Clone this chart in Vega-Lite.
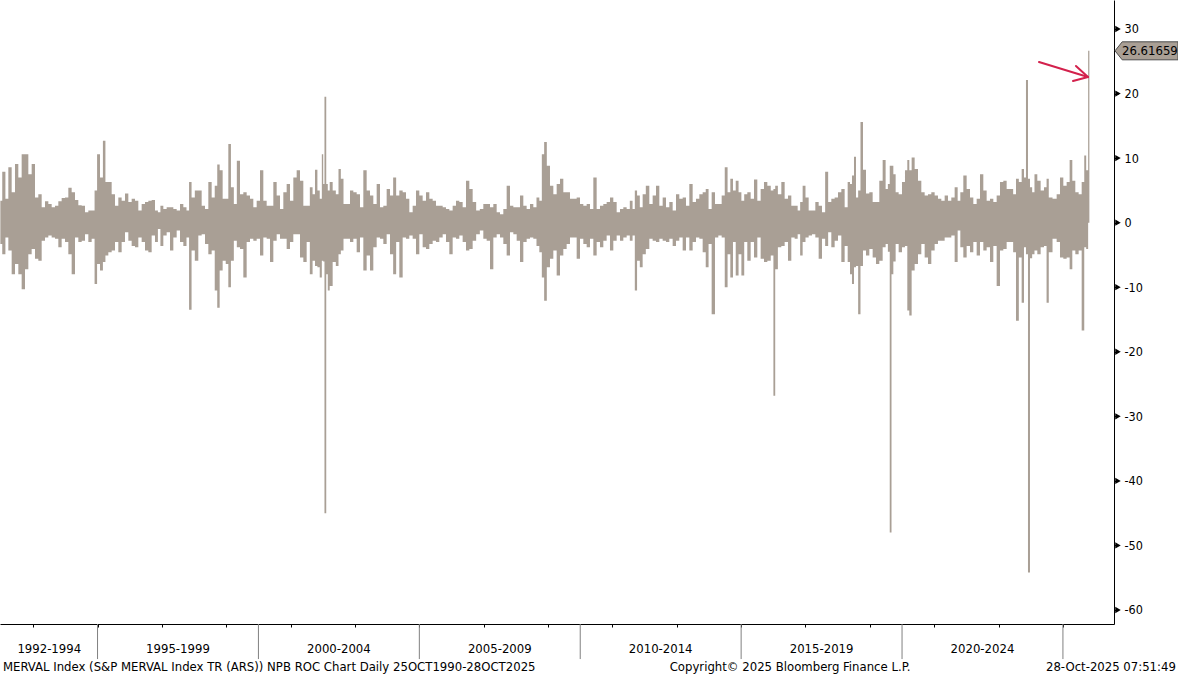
{
"$schema": "https://vega.github.io/schema/vega-lite/v6.json",
"width": 1114, "height": 624,
"autosize": {"type": "none"},
"padding": {"left": 0, "top": 0, "right": 64, "bottom": 52},
"background": "white",
"config": {"view": {"stroke": null}, "font": "DejaVu Sans Condensed, DejaVu Sans, sans-serif"},
"datasets": {
"roc": [
{"t":1991.98,"h":3.4,"l":-3.3},{"t":1992.098,"h":7.9,"l":-4.9},{"t":1992.176,"h":3.7,"l":-2.3},{"t":1992.28,"h":8.6,"l":-4.3},{"t":1992.383,"h":4.7,"l":-8.0},{"t":1992.487,"h":9.1,"l":-6.4},{"t":1992.59,"h":7.0,"l":-8.0},{"t":1992.694,"h":10.6,"l":-10.3},{"t":1992.798,"h":10.6,"l":-7.2},{"t":1992.901,"h":7.5,"l":-4.9},
{"t":1993.005,"h":9.1,"l":-4.1},{"t":1993.108,"h":3.9,"l":-5.6},{"t":1993.212,"h":4.4,"l":-5.9},{"t":1993.316,"h":2.4,"l":-2.8},{"t":1993.419,"h":3.3,"l":-2.3},{"t":1993.523,"h":2.9,"l":-2.0},{"t":1993.626,"h":2.4,"l":-2.3},{"t":1993.73,"h":2.6,"l":-2.5},{"t":1993.833,"h":3.3,"l":-3.8},{"t":1993.937,"h":3.8,"l":-2.5},
{"t":1994.041,"h":3.9,"l":-3.0},{"t":1994.144,"h":5.4,"l":-4.9},{"t":1994.248,"h":4.7,"l":-8.0},{"t":1994.351,"h":3.5,"l":-2.3},{"t":1994.455,"h":2.7,"l":-3.0},{"t":1994.559,"h":2.6,"l":-2.8},{"t":1994.662,"h":1.6,"l":-1.8},{"t":1994.766,"h":1.9,"l":-3.0},{"t":1994.869,"h":1.9,"l":-2.5},{"t":1994.947,"h":5.0,"l":-9.5},
{"t":1995.025,"h":10.6,"l":-6.4},{"t":1995.128,"h":7.0,"l":-7.4},{"t":1995.206,"h":12.7,"l":-6.1},{"t":1995.284,"h":6.3,"l":-5.1},{"t":1995.387,"h":6.3,"l":-4.6},{"t":1995.491,"h":4.4,"l":-4.3},{"t":1995.594,"h":2.6,"l":-3.0},{"t":1995.698,"h":3.9,"l":-4.6},{"t":1995.801,"h":3.4,"l":-3.0},{"t":1995.905,"h":4.5,"l":-1.5},
{"t":1996.009,"h":3.2,"l":-2.8},{"t":1996.112,"h":3.7,"l":-3.6},{"t":1996.216,"h":3.4,"l":-3.8},{"t":1996.319,"h":1.9,"l":-2.3},{"t":1996.423,"h":2.9,"l":-3.0},{"t":1996.527,"h":3.2,"l":-4.3},{"t":1996.63,"h":3.4,"l":-4.6},{"t":1996.734,"h":3.5,"l":-2.0},{"t":1996.837,"h":1.9,"l":-3.0},{"t":1996.915,"h":1.6,"l":-1.0},
{"t":1996.993,"h":2.6,"l":-3.6},{"t":1997.096,"h":2.1,"l":-2.0},{"t":1997.2,"h":2.4,"l":-1.5},{"t":1997.304,"h":2.4,"l":-4.3},{"t":1997.407,"h":2.1,"l":-2.3},{"t":1997.511,"h":1.9,"l":-1.2},{"t":1997.614,"h":2.9,"l":-3.0},{"t":1997.718,"h":2.4,"l":-3.6},{"t":1997.811,"h":1.9,"l":-2.3},{"t":1997.878,"h":6.3,"l":-13.5},
{"t":1997.966,"h":3.9,"l":-4.3},{"t":1998.08,"h":5.0,"l":-5.9},{"t":1998.184,"h":5.0,"l":-2.0},{"t":1998.288,"h":2.6,"l":-1.8},{"t":1998.391,"h":2.1,"l":-3.3},{"t":1998.495,"h":6.3,"l":-4.9},{"t":1998.598,"h":3.9,"l":-4.3},{"t":1998.686,"h":5.7,"l":-10.5},{"t":1998.754,"h":9.0,"l":-13.2},{"t":1998.836,"h":8.1,"l":-7.4},
{"t":1998.94,"h":3.7,"l":-5.9},{"t":1999.028,"h":3.7,"l":-6.4},{"t":1999.101,"h":12.2,"l":-10.0},{"t":1999.189,"h":5.5,"l":-5.9},{"t":1999.282,"h":2.9,"l":-2.8},{"t":1999.375,"h":9.6,"l":-3.8},{"t":1999.479,"h":4.4,"l":-4.1},{"t":1999.582,"h":4.7,"l":-8.5},{"t":1999.686,"h":4.2,"l":-3.0},{"t":1999.789,"h":3.7,"l":-2.5},
{"t":1999.893,"h":2.4,"l":-2.8},{"t":1999.997,"h":3.4,"l":-2.5},{"t":2000.1,"h":8.1,"l":-5.1},{"t":2000.204,"h":3.4,"l":-2.3},{"t":2000.307,"h":2.6,"l":-2.5},{"t":2000.411,"h":2.6,"l":-6.1},{"t":2000.515,"h":6.3,"l":-2.8},{"t":2000.618,"h":4.2,"l":-1.8},{"t":2000.722,"h":2.1,"l":-2.5},{"t":2000.825,"h":4.7,"l":-2.5},
{"t":2000.929,"h":6.0,"l":-4.1},{"t":2001.032,"h":3.4,"l":-3.0},{"t":2001.136,"h":7.0,"l":-1.8},{"t":2001.24,"h":8.1,"l":-1.8},{"t":2001.343,"h":6.5,"l":-5.4},{"t":2001.447,"h":2.6,"l":-6.1},{"t":2001.55,"h":2.6,"l":-3.0},{"t":2001.644,"h":5.5,"l":-8.0},{"t":2001.721,"h":4.4,"l":-5.9},{"t":2001.794,"h":8.2,"l":-6.7},
{"t":2001.871,"h":5.0,"l":-6.9},{"t":2001.939,"h":3.7,"l":-8.5},{"t":2002.001,"h":10.6,"l":-5.9},{"t":2002.025,"h":6.0,"l":-6.0},{"t":2002.079,"h":19.5,"l":-45.0},{"t":2002.135,"h":6.0,"l":-8.0},{"t":2002.175,"h":5.0,"l":-10.5},{"t":2002.255,"h":6.3,"l":-9.8},{"t":2002.358,"h":5.0,"l":-6.1},{"t":2002.452,"h":4.4,"l":-6.7},{"t":2002.524,"h":8.3,"l":-4.9},{"t":2002.597,"h":6.8,"l":-4.3},
{"t":2002.69,"h":2.9,"l":-2.5},{"t":2002.793,"h":2.9,"l":-2.5},{"t":2002.897,"h":5.0,"l":-3.0},{"t":2003.001,"h":4.7,"l":-2.5},{"t":2003.104,"h":4.4,"l":-4.6},{"t":2003.208,"h":2.4,"l":-2.3},{"t":2003.311,"h":8.1,"l":-7.4},{"t":2003.415,"h":5.0,"l":-5.1},{"t":2003.518,"h":4.2,"l":-7.4},{"t":2003.622,"h":2.9,"l":-3.8},
{"t":2003.726,"h":6.0,"l":-2.3},{"t":2003.829,"h":2.4,"l":-2.5},{"t":2003.933,"h":2.6,"l":-3.3},{"t":2004.036,"h":5.2,"l":-1.8},{"t":2004.14,"h":4.2,"l":-4.9},{"t":2004.233,"h":7.0,"l":-8.0},{"t":2004.326,"h":4.2,"l":-3.0},{"t":2004.43,"h":5.0,"l":-8.5},{"t":2004.534,"h":4.7,"l":-2.3},{"t":2004.637,"h":3.7,"l":-2.5},
{"t":2004.741,"h":1.6,"l":-2.0},{"t":2004.844,"h":2.6,"l":-2.5},{"t":2004.948,"h":5.0,"l":-4.9},{"t":2005.051,"h":4.2,"l":-1.8},{"t":2005.155,"h":3.4,"l":-3.8},{"t":2005.259,"h":4.7,"l":-4.1},{"t":2005.362,"h":3.7,"l":-3.3},{"t":2005.466,"h":3.4,"l":-2.8},{"t":2005.569,"h":2.6,"l":-3.0},{"t":2005.673,"h":2.6,"l":-2.3},
{"t":2005.777,"h":2.4,"l":-1.8},{"t":2005.88,"h":2.1,"l":-3.0},{"t":2005.984,"h":1.9,"l":-4.9},{"t":2006.087,"h":2.6,"l":-2.3},{"t":2006.191,"h":3.4,"l":-2.5},{"t":2006.294,"h":3.2,"l":-2.0},{"t":2006.398,"h":2.4,"l":-3.0},{"t":2006.502,"h":6.5,"l":-4.3},{"t":2006.605,"h":5.2,"l":-4.1},{"t":2006.709,"h":3.2,"l":-2.8},
{"t":2006.823,"h":1.9,"l":-1.8},{"t":2006.937,"h":2.1,"l":-1.2},{"t":2007.04,"h":2.9,"l":-2.5},{"t":2007.144,"h":2.9,"l":-2.8},{"t":2007.248,"h":2.4,"l":-7.2},{"t":2007.351,"h":2.9,"l":-2.3},{"t":2007.455,"h":1.6,"l":-1.8},{"t":2007.558,"h":1.3,"l":-2.3},{"t":2007.662,"h":2.1,"l":-3.3},{"t":2007.765,"h":5.7,"l":-5.1},
{"t":2007.869,"h":2.6,"l":-1.5},{"t":2007.973,"h":2.4,"l":-1.8},{"t":2008.076,"h":2.4,"l":-2.8},{"t":2008.18,"h":4.2,"l":-6.1},{"t":2008.283,"h":2.6,"l":-3.0},{"t":2008.387,"h":2.1,"l":-2.5},{"t":2008.49,"h":2.9,"l":-2.3},{"t":2008.594,"h":2.4,"l":-2.5},{"t":2008.687,"h":3.9,"l":-3.6},{"t":2008.77,"h":3.4,"l":-4.6},
{"t":2008.843,"h":10.6,"l":-8.5},{"t":2008.915,"h":12.5,"l":-12.1},{"t":2009.008,"h":8.8,"l":-6.9},{"t":2009.112,"h":5.7,"l":-5.6},{"t":2009.216,"h":4.4,"l":-4.3},{"t":2009.319,"h":6.0,"l":-8.2},{"t":2009.423,"h":6.8,"l":-5.1},{"t":2009.526,"h":4.7,"l":-4.1},{"t":2009.63,"h":4.7,"l":-3.3},{"t":2009.733,"h":3.7,"l":-2.3},
{"t":2009.837,"h":3.7,"l":-2.3},{"t":2009.941,"h":3.9,"l":-5.6},{"t":2010.044,"h":2.9,"l":-2.5},{"t":2010.148,"h":2.6,"l":-3.3},{"t":2010.251,"h":2.9,"l":-3.8},{"t":2010.355,"h":2.1,"l":-2.5},{"t":2010.459,"h":7.0,"l":-5.1},{"t":2010.562,"h":2.1,"l":-3.0},{"t":2010.666,"h":2.6,"l":-3.8},{"t":2010.769,"h":2.9,"l":-2.8},
{"t":2010.873,"h":3.2,"l":-2.0},{"t":2010.976,"h":3.9,"l":-4.3},{"t":2011.08,"h":3.2,"l":-2.8},{"t":2011.184,"h":1.6,"l":-2.0},{"t":2011.287,"h":2.1,"l":-2.8},{"t":2011.391,"h":2.4,"l":-2.3},{"t":2011.494,"h":2.1,"l":-2.0},{"t":2011.587,"h":3.4,"l":-2.8},{"t":2011.665,"h":2.1,"l":-2.0},{"t":2011.727,"h":5.0,"l":-10.5},
{"t":2011.805,"h":4.2,"l":-5.9},{"t":2011.898,"h":2.4,"l":-6.9},{"t":2011.981,"h":4.4,"l":-4.9},{"t":2012.095,"h":5.7,"l":-4.1},{"t":2012.199,"h":2.9,"l":-2.5},{"t":2012.302,"h":4.2,"l":-2.8},{"t":2012.406,"h":5.7,"l":-3.0},{"t":2012.51,"h":2.6,"l":-2.5},{"t":2012.613,"h":3.9,"l":-2.8},{"t":2012.717,"h":2.4,"l":-3.0},
{"t":2012.82,"h":3.2,"l":-2.5},{"t":2012.924,"h":1.9,"l":-3.6},{"t":2013.027,"h":4.4,"l":-2.8},{"t":2013.131,"h":3.7,"l":-2.3},{"t":2013.235,"h":3.9,"l":-4.3},{"t":2013.338,"h":2.6,"l":-2.3},{"t":2013.442,"h":6.0,"l":-4.3},{"t":2013.545,"h":3.2,"l":-3.0},{"t":2013.649,"h":3.7,"l":-2.3},{"t":2013.753,"h":4.4,"l":-2.5},
{"t":2013.856,"h":4.7,"l":-4.6},{"t":2013.944,"h":5.2,"l":-6.9},{"t":2014.032,"h":2.1,"l":-3.3},{"t":2014.136,"h":4.7,"l":-14.2},{"t":2014.239,"h":2.9,"l":-2.3},{"t":2014.343,"h":2.9,"l":-2.0},{"t":2014.447,"h":4.2,"l":-2.3},{"t":2014.535,"h":8.6,"l":-10.0},{"t":2014.623,"h":4.7,"l":-4.9},{"t":2014.705,"h":6.8,"l":-8.5},
{"t":2014.788,"h":5.0,"l":-3.0},{"t":2014.876,"h":6.5,"l":-8.2},{"t":2014.964,"h":4.7,"l":-4.9},{"t":2015.052,"h":3.4,"l":-8.2},{"t":2015.14,"h":4.4,"l":-3.0},{"t":2015.244,"h":4.7,"l":-5.9},{"t":2015.348,"h":3.7,"l":-3.0},{"t":2015.451,"h":6.7,"l":-5.4},{"t":2015.555,"h":3.4,"l":-2.3},{"t":2015.658,"h":5.2,"l":-5.6},
{"t":2015.762,"h":6.3,"l":-6.1},{"t":2015.866,"h":5.7,"l":-5.9},{"t":2015.975,"h":5.0,"l":-5.1},{"t":2016.031,"h":5.2,"l":-26.8},{"t":2016.087,"h":5.7,"l":-7.2},{"t":2016.197,"h":4.4,"l":-3.8},{"t":2016.301,"h":6.3,"l":-3.6},{"t":2016.404,"h":3.7,"l":-3.0},{"t":2016.508,"h":4.2,"l":-5.9},{"t":2016.611,"h":2.6,"l":-2.3},
{"t":2016.715,"h":2.6,"l":-2.5},{"t":2016.798,"h":1.9,"l":-1.8},{"t":2016.87,"h":3.2,"l":-5.1},{"t":2016.953,"h":5.7,"l":-3.0},{"t":2017.047,"h":3.9,"l":-2.3},{"t":2017.15,"h":1.9,"l":-2.0},{"t":2017.254,"h":1.9,"l":-1.8},{"t":2017.357,"h":3.2,"l":-2.3},{"t":2017.461,"h":2.6,"l":-5.6},{"t":2017.564,"h":1.6,"l":-2.5},
{"t":2017.658,"h":7.9,"l":-3.6},{"t":2017.751,"h":3.2,"l":-1.5},{"t":2017.854,"h":3.7,"l":-3.8},{"t":2017.958,"h":3.9,"l":-2.8},{"t":2018.062,"h":4.7,"l":-2.0},{"t":2018.165,"h":5.2,"l":-6.1},{"t":2018.269,"h":2.4,"l":-3.6},{"t":2018.352,"h":6.3,"l":-6.1},{"t":2018.414,"h":6.0,"l":-8.0},{"t":2018.476,"h":7.3,"l":-9.5},
{"t":2018.538,"h":10.2,"l":-6.9},{"t":2018.6,"h":3.9,"l":-6.7},{"t":2018.673,"h":5.0,"l":-14.2},{"t":2018.745,"h":15.6,"l":-6.7},{"t":2018.828,"h":8.2,"l":-4.3},{"t":2018.932,"h":4.5,"l":-5.1},{"t":2019.035,"h":4.7,"l":-4.1},{"t":2019.139,"h":3.2,"l":-5.4},{"t":2019.242,"h":3.2,"l":-6.4},{"t":2019.346,"h":6.5,"l":-5.9},
{"t":2019.45,"h":9.7,"l":-3.8},{"t":2019.53,"h":5.2,"l":-3.3},{"t":2019.59,"h":6.0,"l":-4.5},{"t":2019.646,"h":8.8,"l":-48.0},{"t":2019.70,"h":8.8,"l":-8.0},{"t":2019.76,"h":7.5,"l":-6.0},{"t":2019.843,"h":4.7,"l":-3.3},{"t":2019.947,"h":4.4,"l":-4.6},{"t":2020.05,"h":6.3,"l":-3.8},{"t":2020.133,"h":8.1,"l":-3.6},
{"t":2020.195,"h":9.7,"l":-13.6},{"t":2020.257,"h":8.1,"l":-14.4},{"t":2020.34,"h":10.1,"l":-7.4},{"t":2020.444,"h":8.3,"l":-6.4},{"t":2020.548,"h":6.5,"l":-4.9},{"t":2020.651,"h":4.7,"l":-3.3},{"t":2020.755,"h":4.2,"l":-5.4},{"t":2020.858,"h":4.4,"l":-6.4},{"t":2020.962,"h":4.7,"l":-4.3},{"t":2021.065,"h":4.2,"l":-3.3},
{"t":2021.169,"h":3.7,"l":-2.8},{"t":2021.273,"h":3.4,"l":-2.8},{"t":2021.376,"h":4.2,"l":-2.3},{"t":2021.48,"h":3.4,"l":-2.3},{"t":2021.583,"h":3.9,"l":-2.0},{"t":2021.687,"h":5.5,"l":-6.1},{"t":2021.77,"h":3.4,"l":-1.2},{"t":2021.853,"h":4.7,"l":-3.8},{"t":2021.956,"h":7.3,"l":-5.4},{"t":2022.06,"h":5.2,"l":-3.6},
{"t":2022.164,"h":3.9,"l":-4.6},{"t":2022.267,"h":2.9,"l":-3.0},{"t":2022.371,"h":3.7,"l":-5.1},{"t":2022.474,"h":7.5,"l":-3.0},{"t":2022.578,"h":5.0,"l":-4.3},{"t":2022.681,"h":3.4,"l":-3.8},{"t":2022.785,"h":3.7,"l":-6.1},{"t":2022.889,"h":3.2,"l":-3.6},{"t":2022.992,"h":4.2,"l":-9.8},{"t":2023.096,"h":6.3,"l":-4.3},
{"t":2023.199,"h":6.5,"l":-4.1},{"t":2023.303,"h":5.2,"l":-3.0},{"t":2023.406,"h":5.2,"l":-3.0},{"t":2023.5,"h":4.4,"l":-4.6},{"t":2023.583,"h":6.8,"l":-15.2},{"t":2023.676,"h":6.3,"l":-5.4},{"t":2023.759,"h":8.3,"l":-12.4},{"t":2023.82,"h":7.0,"l":-3.8},{"t":2023.883,"h":22.1,"l":-4.9},
{"t":2023.945,"h":6.8,"l":-54.2},{"t":2024.007,"h":5.5,"l":-5.5},{"t":2024.08,"h":4.7,"l":-4.9},{"t":2024.152,"h":7.5,"l":-4.3},{"t":2024.256,"h":6.5,"l":-4.9},{"t":2024.359,"h":5.0,"l":-3.8},{"t":2024.463,"h":5.5,"l":-3.6},{"t":2024.52,"h":6.8,"l":-12.4},{"t":2024.6,"h":3.9,"l":-4.6},{"t":2024.753,"h":3.7,"l":-2.5},
{"t":2024.857,"h":4.4,"l":-3.0},{"t":2024.96,"h":7.0,"l":-5.4},{"t":2025.064,"h":5.7,"l":-5.6},{"t":2025.167,"h":6.3,"l":-5.4},{"t":2025.25,"h":9.7,"l":-7.2},{"t":2025.333,"h":6.5,"l":-4.3},{"t":2025.437,"h":4.7,"l":-4.9},{"t":2025.54,"h":4.4,"l":-4.3},{"t":2025.625,"h":6.3,"l":-16.7},{"t":2025.7,"h":10.4,"l":-3.8},
{"t":2025.745,"h":8.1,"l":-4.1},{"t":2025.822,"h":26.61659,"l":0}
],
"periods": [
{"p":"1992-1994","t":1993.5},{"p":"1995-1999","t":1997.5},{"p":"2000-2004","t":2002.5},{"p":"2005-2009","t":2007.5},{"p":"2010-2014","t":2012.5},{"p":"2015-2019","t":2017.5},{"p":"2020-2024","t":2022.5}
],
"bounds": [{"t":1995},{"t":2000},{"t":2005},{"t":2010},{"t":2015},{"t":2020},{"t":2025}],
"yticks": [{"v":-60},{"v":-50},{"v":-40},{"v":-30},{"v":-20},{"v":-10},{"v":0},{"v":10},{"v":20},{"v":30}],
"arrow": [
{"t":2024.256,"v":24.89,"t2":2025.779,"v2":22.57},
{"t":2025.405,"v":24.27,"t2":2025.779,"v2":22.57},
{"t":2025.312,"v":21.95,"t2":2025.779,"v2":22.57}
],
"last": [{"v":26.61659}]
},
"layer": [
{
"data": {"name": "roc"},
"mark": {"type": "area", "interpolate": "step", "color": "#a99f95", "clip": true},
"encoding": {
"x": {"field": "t", "type": "quantitative", "title": null,
"scale": {"domain": [1991.969, 2026.587], "nice": false, "zero": false},
"axis": {"values": [1993,1994,1995,1996,1997,1998,1999,2000,2001,2002,2003,2004,2005,2006,2007,2008,2009,2010,2011,2012,2013,2014,2015,2016,2017,2018,2019,2020,2021,2022,2023,2024,2025,2026],
"labels": false, "tickSize": 3, "title": null, "grid": false, "domainColor": "#000", "tickColor": "#000"}},
"y": {"field": "h", "type": "quantitative", "title": null,
"scale": {"domain": [-62.17, 34.49], "nice": false, "zero": false},
"axis": {"orient": "right", "values": [-60,-55,-50,-45,-40,-35,-30,-25,-20,-15,-10,-5,0,5,10,15,20,25,30],
"labelExpr": "datum.value % 10 === 0 ? '' + datum.value : ''",
"tickSize": 4, "labelPadding": 6, "title": null, "grid": false, "domainColor": "#000", "tickColor": "#000",
"labelColor": "#000", "labelFontSize": 12.5, "labelOverlap": false, "labelFlush": false, "labelBaseline": "middle"}},
"y2": {"field": "l"}
}
},
{
"data": {"name": "bounds"},
"mark": {"type": "rule", "color": "#808080", "strokeWidth": 1},
"encoding": {
"x": {"field": "t", "type": "quantitative", "title": null},
"y": {"datum": -62.17},
"y2": {"datum": -67.6}
}
},
{
"data": {"name": "periods"},
"mark": {"type": "text", "fontSize": 13, "align": "center", "baseline": "middle", "color": "#000"},
"encoding": {
"x": {"field": "t", "type": "quantitative", "title": null},
"y": {"datum": -66.0},
"text": {"field": "p"}
}
},
{
"data": {"values": [{"s": "MERVAL Index (S&P MERVAL Index TR (ARS)) NPB ROC Chart Daily 25OCT1990-28OCT2025", "t": 1992.06}]},
"mark": {"type": "text", "fontSize": 13, "align": "left", "baseline": "middle", "color": "#000"},
"encoding": {
"x": {"field": "t", "type": "quantitative", "title": null},
"y": {"datum": -68.85},
"text": {"field": "s"}
}
},
{
"data": {"values": [{"s": "Copyright© 2025 Bloomberg Finance L.P.", "t": 2016.52}]},
"mark": {"type": "text", "fontSize": 13, "align": "center", "baseline": "middle", "color": "#000"},
"encoding": {
"x": {"field": "t", "type": "quantitative", "title": null},
"y": {"datum": -68.85},
"text": {"field": "s"}
}
},
{
"data": {"values": [{"s": "28-Oct-2025 07:51:49", "t": 2028.51}]},
"mark": {"type": "text", "fontSize": 13, "align": "right", "baseline": "middle", "color": "#000"},
"encoding": {
"x": {"field": "t", "type": "quantitative", "title": null},
"y": {"datum": -68.85},
"text": {"field": "s"}
}
},
{
"data": {"name": "yticks"},
"mark": {"type": "point", "shape": "triangle-right", "size": 40, "filled": true, "color": "#000", "opacity": 1, "xOffset": 4},
"encoding": {
"x": {"datum": 2026.587},
"y": {"field": "v", "type": "quantitative", "title": null}
}
},
{
"data": {"name": "arrow"},
"mark": {"type": "rule", "color": "#d3214c", "strokeWidth": 2, "strokeCap": "round"},
"encoding": {
"x": {"field": "t", "type": "quantitative", "title": null},
"y": {"field": "v", "type": "quantitative", "title": null},
"x2": {"field": "t2"},
"y2": {"field": "v2"}
}
},
{
"data": {"name": "last"},
"mark": {"type": "point", "shape": "M0,0L0.8,-1L7,-1L7,1L0.8,1Z", "size": 324, "filled": true, "color": "#a99f95", "stroke": "#4d4d4d", "strokeWidth": 1, "opacity": 1, "xOffset": 1},
"encoding": {
"x": {"datum": 2026.587},
"y": {"field": "v", "type": "quantitative", "title": null}
}
},
{
"data": {"name": "last"},
"mark": {"type": "text", "fontSize": 13, "align": "left", "baseline": "middle", "dx": 8, "color": "#000"},
"encoding": {
"x": {"datum": 2026.587},
"y": {"field": "v", "type": "quantitative", "title": null},
"text": {"field": "v", "type": "quantitative", "format": ".5f"}
}
}
]
}
